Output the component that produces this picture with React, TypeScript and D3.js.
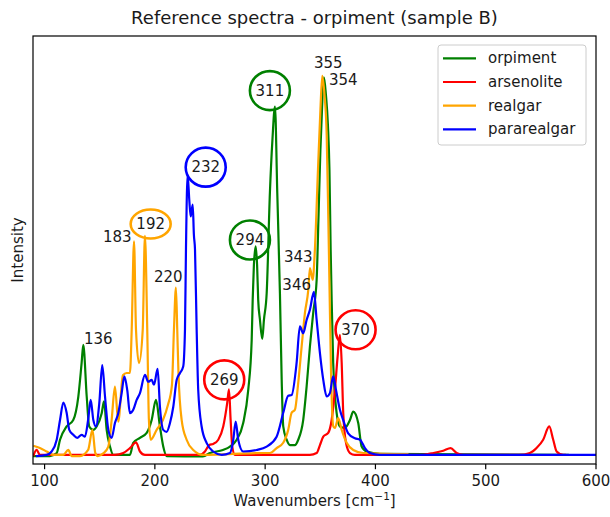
import React from "react";
import * as d3 from "d3";

// spectra: [wavenumber cm-1, intensity % of max]
const orpiment: [number, number][] = [
  [89.5, -0.3], [104.9, -0.3], [111.0, 0.5], [114.0, 4.0], [120.0, 7.5], [126.0, 9.2], [130.6, 15.4],
  [133.6, 24.3], [135.1, 29.0], [138.2, 15.4], [140.5, 7.5], [144.2, 6.6], [147.2, 7.5], [151.8, 11.0],
  [153.9, 14.1], [156.3, 6.6], [159.3, 2.2], [162.3, 0],
  [177.4, 0], [180.4, 3.2], [186.5, 4.5], [192.6, 5.8], [197.1, 9.2], [201.0, 14.5], [204.6, 7.5],
  [207.6, 2.2], [210.7, -0.3], [243.6, -0.4], [250.0, 0.5], [261.7, 1.3], [268.1, 2.2], [274.2, 4.0],
  [280.1, 8.4], [284.7, 17.2], [287.8, 30.3], [288.7, 40.9], [289.8, 50.1], [291.4, 55.0], [292.7, 50.1],
  [293.7, 40.9], [295.3, 35.6], [297.4, 30.6], [298.9, 35.6], [301.4, 42.7], [304.3, 69.1], [306.6, 83.1],
  [308.9, 91.9], [311.0, 69.1], [313.4, 42.7], [315.0, 19.8], [316.4, 7.5], [319.5, 4.0], [322.5, 2.6],
  [327.0, 2.6], [330.0, 4.0], [334.5, 9.2], [337.6, 18.0], [340.6, 28.6], [343.6, 37.5], [346.7, 46.2],
  [348.3, 62.0], [350.1, 80.5], [351.9, 93.7], [353.3, 99.6], [355.1, 95.0], [356.9, 87.1], [358.3, 75.2],
  [359.4, 54.1], [360.3, 40.9], [361.7, 24.3], [364.8, 11.1], [367.8, 7.5], [372.3, 7.1], [376.9, 9.2],
  [379.9, 11.4], [384.4, 8.4], [387.5, 2.2], [392.0, 0.9], [404.1, 0.3], [575.4, 0],
];

const arsenolite: [number, number][] = [
  [89.8, -0.3], [92.8, 1.3], [95.8, 0], [163.8, 0], [171.4, 0.5], [177.4, 1.8], [182.9, 3.3], [186.5, 0.9],
  [191.0, 0], [240.9, 0], [245.4, 0.9], [249.3, 2.6], [252.9, 2.9], [257.5, 4.0], [262.0, 7.5], [265.6, 13.7],
  [267.2, 17.3], [268.7, 9.2], [270.2, 2.2], [272.6, 0], [340.6, 0], [346.7, 0.5], [349.7, 2.6], [352.7, 4.8],
  [357.2, 5.8], [360.3, 9.2], [363.3, 17.2], [365.7, 25.9], [367.8, 31.7], [369.4, 24.3], [370.8, 11.1],
  [373.3, 3.2], [376.9, 0.5], [381.4, 0], [440.0, 0], [452.4, 0.5], [461.5, 1.1], [468.2, 1.8], [473.6, 0.5],
  [479.6, 0], [530.0, 0], [540.0, 0.5], [546.1, 1.8], [552.1, 4.0], [557.6, 7.5], [561.2, 4.0], [564.3, 0.9],
  [570.3, 0], [572.7, 0],
];

const realgar: [number, number][] = [
  [89.8, 2.4], [95.8, 1.8], [101.9, 0.9], [107.9, 0], [117.0, 0], [121.5, 1.3], [124.6, -0.3], [132.1, -0.3],
  [139.5, 1.3], [143.4, 6.6], [146.0, 0.5], [148.2, -0.3], [153.2, 0.4], [157.8, 2.2], [160.8, 9.2],
  [163.8, 18.0], [166.8, 8.8], [171.0, 21.0], [174.4, 21.6], [177.4, 21.6], [179.0, 33.0], [181.1, 56.3],
  [182.9, 33.0], [185.6, 24.2], [189.0, 33.0], [191.0, 57.8], [193.1, 33.0], [194.6, 9.2], [196.2, 4.0],
  [201.6, 6.6], [207.3, 9.2], [211.9, 13.2], [215.5, 18.5], [217.3, 33.0], [219.1, 44.1], [220.3, 33.0],
  [221.4, 21.6], [224.3, 9.2], [228.8, 4.0], [234.8, 1.3], [243.9, 0], [298.3, 0.5], [304.4, 0.5],
  [310.4, 1.8], [316.4, 3.2], [320.9, 6.6], [324.0, 11.1], [327.0, 11.9], [330.0, 19.0], [333.1, 28.6],
  [336.1, 37.5], [339.1, 43.5], [340.6, 49.3], [343.1, 46.2], [345.1, 54.1], [347.9, 75.2], [350.1, 91.0],
  [351.8, 100], [353.8, 95.0], [355.8, 84.4], [357.3, 62.0], [358.4, 43.5], [359.7, 22.4], [361.8, 7.5],
  [363.3, 7.1], [366.3, 9.7], [369.4, 6.6], [373.9, 3.2], [379.9, 1.3], [389.0, 0.5], [430.0, 0.2],
];

const pararealgar: [number, number][] = [
  [92.2, -0.3], [101.9, 0], [106.4, 0.9], [111.0, 4.0], [114.0, 9.2], [117.0, 13.8], [120.0, 11.1],
  [122.4, 6.6], [126.0, 5.3], [129.6, 4.5], [133.6, 5.3], [136.6, 4.8], [139.6, 9.5], [141.8, 14.5],
  [144.2, 9.2], [146.6, 7.5], [149.6, 13.6], [152.3, 23.7], [154.8, 15.4], [157.8, 6.6], [160.8, 4.5],
  [163.8, 8.4], [166.8, 11.0], [169.9, 16.3], [172.3, 20.7], [175.0, 17.0], [177.4, 11.0], [180.4, 11.9],
  [183.5, 14.5], [186.5, 16.3], [191.0, 21.1], [194.0, 19.3], [197.1, 19.8], [199.2, 18.5], [202.5, 22.7],
  [204.6, 12.7], [207.6, 6.6], [210.7, 6.1], [213.7, 8.4], [216.7, 12.7], [219.8, 19.8], [222.8, 21.6],
  [225.7, 23.3], [227.3, 33.0], [228.2, 54.1], [229.7, 73.9], [231.2, 67.3], [232.5, 62.9], [234.3, 66.0],
  [235.4, 58.0], [236.4, 54.1], [237.9, 33.0], [239.3, 17.2], [242.4, 7.5], [247.0, 3.1], [252.9, 0.9],
  [260.6, 0], [268.1, 0.5], [271.1, 4.0], [273.3, 8.8], [275.6, 4.0], [280.1, 0.9], [292.3, 1.3],
  [301.4, 2.2], [310.4, 4.8], [316.4, 11.1], [320.9, 15.6], [324.0, 15.8], [328.5, 24.2], [331.5, 33.9],
  [334.5, 32.1], [337.6, 35.6], [340.6, 38.3], [344.2, 43.0], [346.7, 35.6], [349.7, 26.8], [352.7, 19.8],
  [355.8, 15.4], [358.7, 16.3], [361.7, 20.7], [364.2, 17.2], [367.8, 11.9], [370.8, 9.2], [375.3, 5.7],
  [381.4, 4.4], [386.0, 4.0], [390.5, 1.8], [395.0, 0.5], [404.1, 0], [600, 0],
];

const seriesNames = ["orpiment", "arsenolite", "realgar", "pararealgar"];
const seriesData = [orpiment, arsenolite, realgar, pararealgar];
const seriesColors = ["green", "red", "orange", "blue"];

const xTicks = [100, 200, 300, 400, 500, 600];

// peak labels: text, anchor wavenumber, anchor intensity, circle colour ("" = plain text)
const peakLabels = ["136", "183", "192", "220", "232", "269", "294", "311", "343", "346", "355", "354", "370"];
const peakX = [148.7, 165.9, 196.2, 212.1, 246.1, 262.9, 286.2, 304.3, 330.0, 328.6, 357.2, 370.8, 382.0];
const peakY = [30.5, 57.4, 60.9, 46.9, 75.9, 19.8, 56.7, 96.1, 52.3, 44.9, 103.5, 98.8, 33.0];
const peakCircle = ["", "", "orange", "", "blue", "red", "green", "green", "", "", "", "", "red"];

const W = 610;
const H = 517;
const left = 33, right = 596, top = 36, bottom = 464;
const font = "DejaVu Sans";

export default function App() {
  const x = d3.scaleLinear().domain([89.5, 600]).range([left, right]);
  const y = d3.scaleLinear().domain([-2.4, 110.5]).range([bottom, top]);
  const line = d3.line<[number, number]>()
    .x(d => x(d[0]))
    .y(d => y(d[1]))
    .curve(d3.curveMonotoneX);

  return (
    <div>
      <style>{"body{margin:0}"}</style>
      <svg width={W} height={H} style={{ display: "block", background: "#fff" }} fontFamily={font}>
        <defs>
          <clipPath id="plot">
            <rect x={left} y={top} width={right - left} height={bottom - top} />
          </clipPath>
        </defs>

        <g clipPath="url(#plot)">
          {seriesData.map((s, i) => (
            <path key={seriesNames[i]} d={line(s) || ""} fill="none" stroke={seriesColors[i]}
              strokeWidth={2.2} strokeLinejoin="round" />
          ))}
        </g>

        {peakLabels.map((t, i) => {
          const cx = x(peakX[i]);
          const cy = y(peakY[i]);
          const c = peakCircle[i];
          const ell = t === "192";
          return (
            <g key={t + i}>
              {c && (
                <ellipse cx={cx} cy={cy} rx={20} ry={ell ? 14.5 : 19.5} fill="none" stroke={c} strokeWidth={2.6} />
              )}
              <text x={cx} y={cy} textAnchor="middle" dominantBaseline="central" fontSize={15} fill="#1a1a1a">{t}</text>
            </g>
          );
        })}

        <rect x={left} y={top} width={right - left} height={bottom - top} fill="none" stroke="#000" strokeWidth={1.2} />

        {xTicks.map(t => (
          <g key={t} transform={`translate(${x(t)},${bottom})`}>
            <line y1={0} y2={5.2} stroke="#000" strokeWidth={1.2} />
            <text y={11} textAnchor="middle" dominantBaseline="hanging" fontSize={15} fill="#1a1a1a">{t}</text>
          </g>
        ))}

        <text x={(left + right) / 2} y={506} textAnchor="middle" fontSize={15} fill="#1a1a1a">
          Wavenumbers [cm<tspan dy={-6} fontSize={10.5}>−1</tspan><tspan dy={6}>]</tspan>
        </text>
        <text transform={`translate(23,${(top + bottom) / 2}) rotate(-90)`} textAnchor="middle" fontSize={15} fill="#1a1a1a">
          Intensity
        </text>
        <text x={(left + right) / 2} y={24} textAnchor="middle" fontSize={18} fill="#1a1a1a">
          Reference spectra - orpiment (sample B)
        </text>

        <g>
          <rect x={438} y={45} width={148} height={100} rx={3} fill="#fff" fillOpacity={0.8} stroke="#cccccc" strokeWidth={1} />
          {seriesNames.map((n, i) => (
            <g key={n} transform={`translate(443,${58.3 + i * 23.7})`}>
              <line x1={0} x2={33} stroke={seriesColors[i]} strokeWidth={2.2} />
              <text x={45} y={0} dominantBaseline="central" fontSize={15} fill="#1a1a1a">{n}</text>
            </g>
          ))}
        </g>
      </svg>
    </div>
  );
}
